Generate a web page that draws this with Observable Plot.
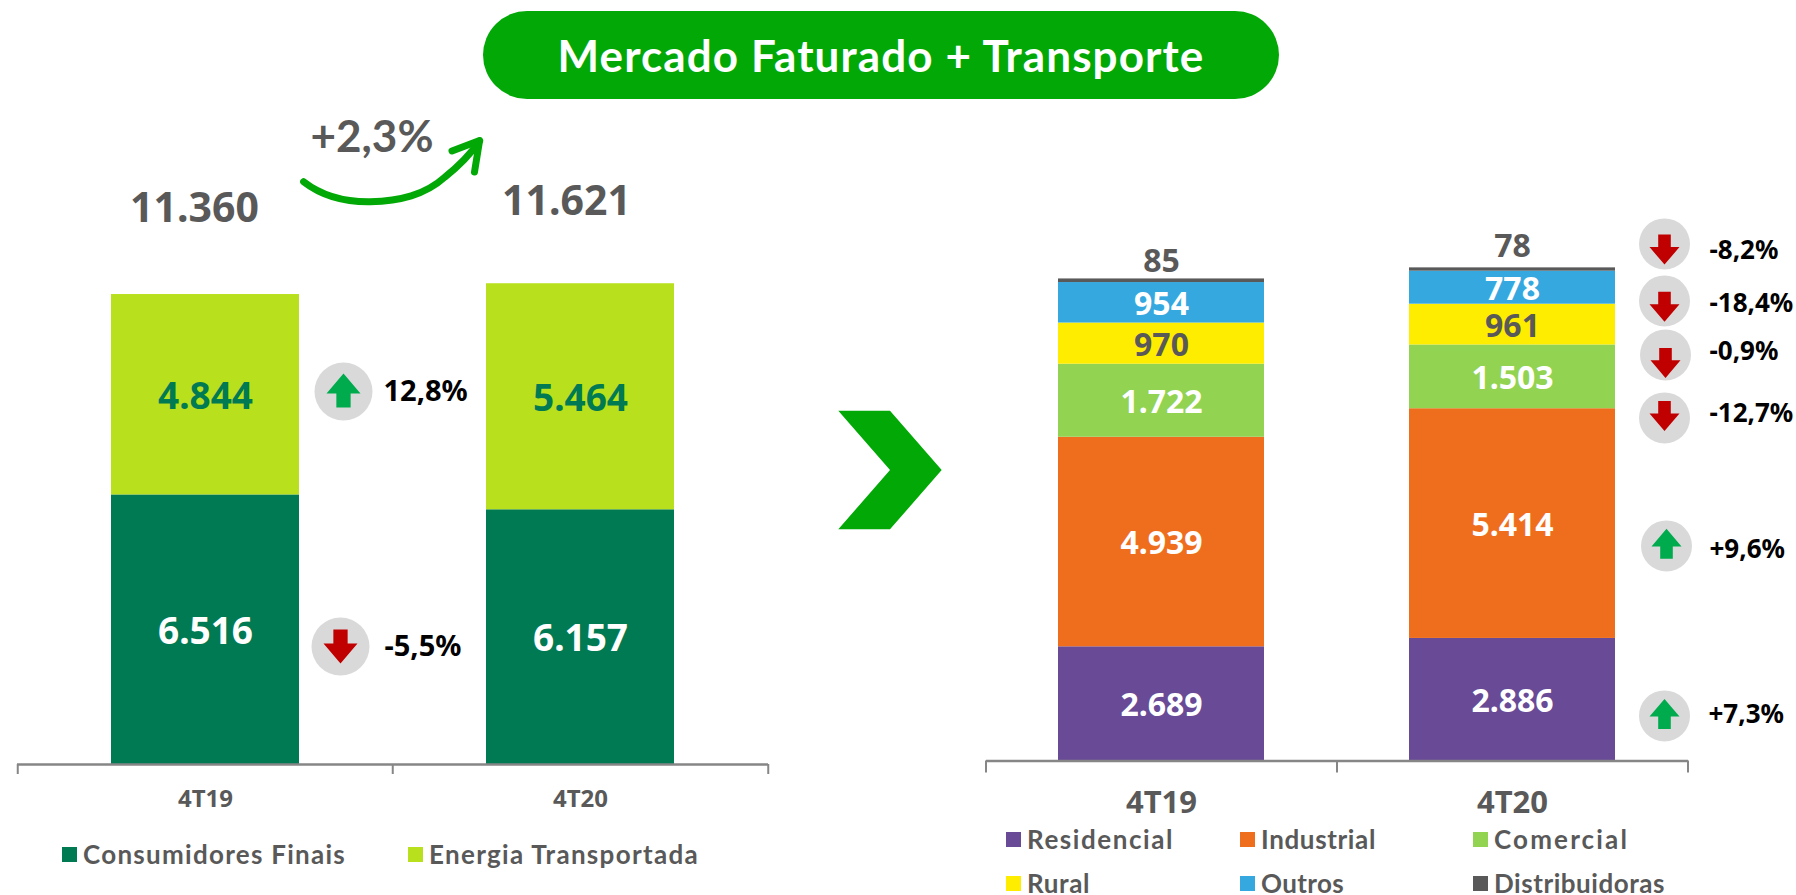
<!DOCTYPE html>
<html><head><meta charset="utf-8">
<script src="https://cdn.jsdelivr.net/npm/d3@7"></script>
<script src="https://cdn.jsdelivr.net/npm/@observablehq/plot@0.6"></script>
<style>
html,body{margin:0;padding:0;background:#fff;width:1796px;height:895px;overflow:hidden;font-family:Lato,sans-serif;}
#page{position:relative;width:1796px;height:895px;}
#page>*{position:absolute;}
#pill{left:483px;top:11px;width:796px;height:88px;border-radius:44px;background:#02A906;color:#fff;font:700 44px Lato,sans-serif;letter-spacing:1.1px;display:flex;align-items:center;justify-content:center;}
.leg{display:flex;align-items:center;font:700 26px Lato,sans-serif;color:#595959;white-space:nowrap;line-height:20px;}
.leg i{display:block;width:15px;height:15px;margin-right:6px;}
svg.plot{position:absolute;overflow:visible;font-family:Lato,sans-serif;}
</style></head><body>
<div id="page"><div id="pill">Mercado Faturado + Transporte</div></div>
<script>
const quarters = ["4T19","4T20"];
const leftSeries = ["Consumidores Finais","Energia Transportada"];
const leftColors = ["#007A53","#B9E01C"];
const consumidores = [6516,6157];
const transportada = [4844,5464];
const leftTotals = [11360,11621];
const leftChanges = ["12,8%","-5,5%"];

const rightSeries = ["Residencial","Industrial","Comercial","Rural","Outros","Distribuidoras"];
const rightColors = ["#684A96","#EF6E1E","#92D351","#FFED00","#35A8E0","#595959"];
const residencial = [2689,2886];
const industrial = [4939,5414];
const comercial = [1722,1503];
const rural = [970,961];
const outros = [954,778];
const distribuidoras = [85,78];
const rightChanges = ["-8,2%","-18,4%","-0,9%","-12,7%","+9,6%","+7,3%"];

const fmt = v => d3.format(",")(v).replace(/,/g,".");
const rows = (names, cols) => names.flatMap((s,i)=>quarters.map((q,j)=>({q,s,v:cols[i][j]})));
const upArrow = {draw(c,size){const r=Math.sqrt(size/Math.PI);
  c.moveTo(0,-r);c.lineTo(r,.17*r);c.lineTo(.42*r,.17*r);c.lineTo(.42*r,r);c.lineTo(-.42*r,r);c.lineTo(-.42*r,.17*r);c.lineTo(-r,.17*r);c.closePath();}};
const downArrow = {draw(c,size){const r=Math.sqrt(size/Math.PI);
  c.moveTo(0,r);c.lineTo(r,-.17*r);c.lineTo(.42*r,-.17*r);c.lineTo(.42*r,-r);c.lineTo(-.42*r,-r);c.lineTo(-.42*r,-.17*r);c.lineTo(-r,-.17*r);c.closePath();}};
const RED="#C00000", GREEN="#00AB4E", GREY="#595959";

function badges(list,{x,rB,rA,fs}){
  return list.flatMap(b=>[
    Plot.dot([b],{x:()=>x,y:()=>b.by,r:rB,dx:b.dxB,fill:"#D9D9D9"}),
    Plot.dot([b],{x:()=>x,y:()=>b.ay,r:rA,dx:b.dxB,fill:b.label.startsWith("-")?RED:GREEN,symbol:b.label.startsWith("-")?downArrow:upArrow}),
    Plot.text([b],{x:()=>x,y:()=>b.ty,text:()=>b.label,dx:b.dxT,textAnchor:"start",fontSize:fs,fontWeight:700,fill:"#000"})
  ]);
}
function separators(step,tick){
  return [
    Plot.ruleX(quarters,{x:d=>d,y1:()=>0,y2:()=>0,dx:-step/2,insetBottom:-tick,stroke:"#868686",strokeWidth:2}),
    Plot.ruleX([quarters[1]],{x:d=>d,y1:()=>0,y2:()=>0,dx:step/2,insetBottom:-tick,stroke:"#868686",strokeWidth:2}),
    Plot.ruleY([0],{stroke:"#868686",strokeWidth:2.5})
  ];
}

/* ---------- left chart ---------- */
const leftData = rows(leftSeries,[consumidores,transportada]);
const leftBadgeY = [9016,2852];
const leftArrowY = [9040,2852];
const leftTextY = [9016,2838];
const leftBadgeDx = [138,135];
const leftTextDx = [178,179];
const leftPlot = Plot.plot({
  width:800,height:895,marginLeft:17,marginRight:32,marginTop:0,marginBottom:131,
  style:{left:"0px",top:"0px",background:"transparent"},
  x:{domain:quarters,paddingInner:.5,paddingOuter:.25,label:null,axis:null},
  y:{domain:[0,12000],range:[764,764-12000*.04137],axis:null},
  color:{domain:leftSeries,range:leftColors},
  marks:[
    Plot.barY(leftData,{x:"q",y:"v",fill:"s",order:null}),
    Plot.text(leftData,Plot.stackY({x:"q",y:"v",z:"s",order:null,text:d=>fmt(d.v),dy:2,fontSize:37,fontWeight:700,fill:d=>d.s===leftSeries[0]?"#fff":"#007A53"})),
    Plot.text([0],{x:()=>quarters[0],y:()=>leftTotals[0],text:()=>fmt(leftTotals[0]),dx:-11,dy:-86,fontSize:41,fontWeight:700,fill:GREY}),
    Plot.text([1],{x:()=>quarters[1],y:()=>leftTotals[1],text:()=>fmt(leftTotals[1]),dx:-14,dy:-82,fontSize:41,fontWeight:700,fill:GREY}),
    ...separators(375.5,10),
    Plot.text(quarters,{x:d=>d,y:()=>0,text:d=>d,dy:35,fontSize:24,fontWeight:700,fill:GREY}),
    ...badges(leftChanges.map((label,i)=>({label,by:leftBadgeY[i],ay:leftArrowY[i],ty:leftTextY[i],dxB:leftBadgeDx[i],dxT:leftTextDx[i]})),{x:quarters[0],rB:29,rA:17,fs:29})
  ]
});
document.getElementById("page").appendChild(leftPlot);

/* ---------- right chart ---------- */
const rightData = rows(rightSeries,[residencial,industrial,comercial,rural,outros,distribuidoras]);
const rightTotals = quarters.map((q,j)=>d3.sum(rightData.filter(d=>d.q===q),d=>d.v));
const rightBadgeY = [12185,10841,9569,8084,5067,1061];
const rightArrowY = [12050,10705,9380,8130,5115,1105];
const rightTextY  = [12020,10770,9640,8180,4985,1085];
const rightBadgeDx = [152,152,153,152,154,152];
const rightTextDx = [197,197,197,197,197,196];
const rightPlot = Plot.plot({
  width:836,height:895,marginLeft:26,marginRight:108,marginTop:0,marginBottom:135,
  style:{left:"960px",top:"0px",background:"transparent"},
  x:{domain:quarters,paddingInner:.413,paddingOuter:.2065,label:null,axis:null},
  y:{domain:[0,12000],range:[760.4,760.4-12000*.04243],axis:null},
  color:{domain:rightSeries,range:rightColors},
  marks:[
    Plot.barY(rightData,{x:"q",y:"v",fill:"s",order:null}),
    Plot.text(rightData.filter(d=>d.s!=="Distribuidoras"),Plot.stackY({x:"q",y:"v",z:"s",order:null,text:d=>fmt(d.v),dy:2,fontSize:32,fontWeight:700,fill:d=>d.s==="Rural"?GREY:"#fff"})),
    Plot.text([0],{x:()=>quarters[0],y:()=>rightTotals[0],text:()=>distribuidoras[0],dy:-17,fontSize:32,fontWeight:700,fill:GREY}),
    Plot.text([1],{x:()=>quarters[1],y:()=>rightTotals[1],text:()=>distribuidoras[1],dy:-21,fontSize:32,fontWeight:700,fill:GREY}),
    ...separators(351,12),
    Plot.text(quarters,{x:d=>d,y:()=>0,text:d=>d,dy:42,fontSize:31,fontWeight:700,fill:GREY}),
    ...badges(rightChanges.map((label,i)=>({label,by:rightBadgeY[i],ay:rightArrowY[i],ty:rightTextY[i],dxB:rightBadgeDx[i],dxT:rightTextDx[i]})),{x:quarters[1],rB:25.5,rA:15,fs:26})
  ]
});
document.getElementById("page").appendChild(rightPlot);

/* ---------- legends ---------- */
const page = document.getElementById("page");
function legend(name,color,left,top,target){
  const el=document.createElement("div");el.className="leg";el.style.left=left+"px";el.style.top=top+"px";
  el.innerHTML=`<i style="background:${color}"></i><span>${name}</span>`;page.appendChild(el);
  const sp=el.querySelector("span");const w=sp.getBoundingClientRect().width;
  sp.style.letterSpacing=((target-w)/name.length)+"px";
}
const leftLegendWidths=[263,270];
const rightLegendWidths=[147,115,135,63,83,171];
[62,408].forEach((l,i)=>legend(leftSeries[i],leftColors[i],l,844,leftLegendWidths[i]));
[[1006,829],[1240,829],[1473,829],[1006,873],[1240,873],[1473,873]].forEach(([l,t],i)=>legend(rightSeries[i],rightColors[i],l,t,rightLegendWidths[i]));

/* ---------- decorations ---------- */
const NS="http://www.w3.org/2000/svg";
const deco=document.createElementNS(NS,"svg");
deco.setAttribute("width",1796);deco.setAttribute("height",895);deco.style.left="0";deco.style.top="0";deco.style.pointerEvents="none";
deco.innerHTML=`
<path d="M303.6 181.7 C322 196 345 202 370 201.7 C400 201 425 195 445 177 C460 165 472 152 479.6 141" fill="none" stroke="#02A906" stroke-width="7" stroke-linecap="round"/>
<path d="M452 151 L479.6 140.5 L474.5 172" fill="none" stroke="#02A906" stroke-width="7" stroke-linecap="round" stroke-linejoin="round"/>
<polygon points="838.3,410.7 890,410.7 941.7,470 890,529.3 838.3,529.3 890,470" fill="#02A906"/>
<text x="372" y="152" text-anchor="middle" font-family="Lato,sans-serif" font-weight="700" font-size="44" fill="#595959">+2,3%</text>`;
page.appendChild(deco);
</script>
</body></html>
